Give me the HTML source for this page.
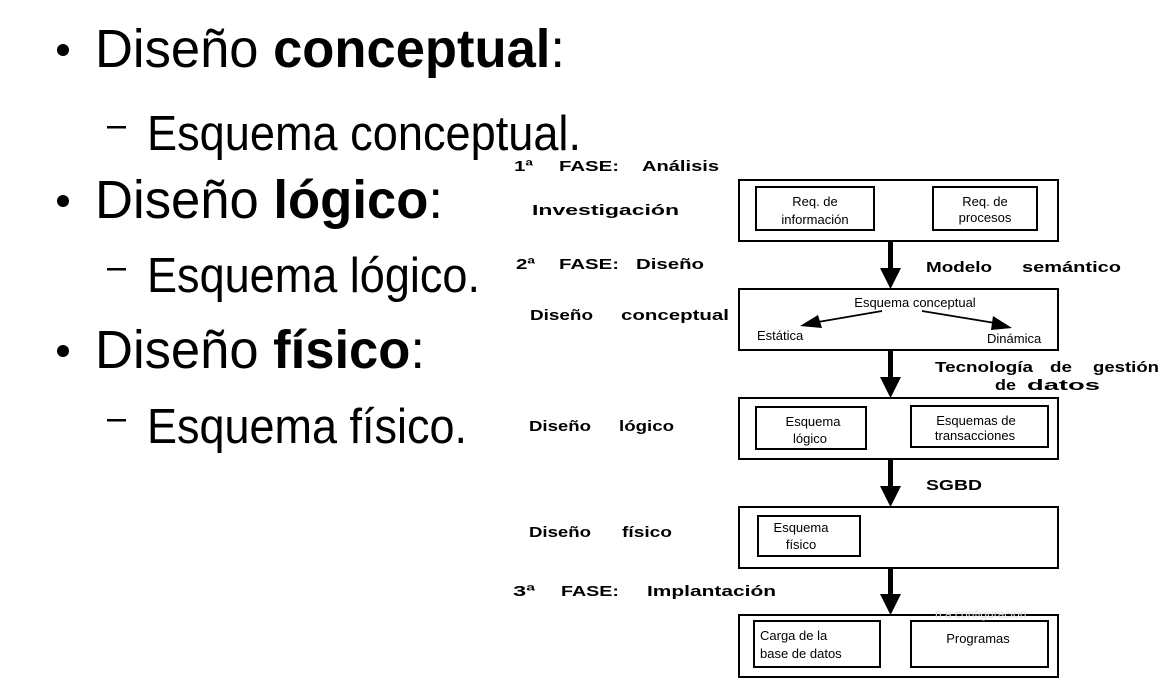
<!DOCTYPE html>
<html><head><meta charset="utf-8"><style>
html,body{margin:0;padding:0;background:#fff;width:1166px;height:694px;overflow:hidden}
svg{display:block}
.big{font-family:"Liberation Sans",Arial,sans-serif;fill:#000}
.lb{font-family:"Liberation Sans",Arial,sans-serif;font-weight:bold;font-size:15px;fill:#000}
.sm{font-family:"Liberation Sans",Arial,sans-serif;font-size:13px;fill:#000}
</style></head><body>
<svg width="1166" height="694" viewBox="0 0 1166 694" xmlns="http://www.w3.org/2000/svg">
<circle cx="63" cy="50" r="6"/>
<text class="big" x="95" y="67" font-size="54" textLength="470" lengthAdjust="spacingAndGlyphs">Diseño <tspan font-weight="bold">conceptual</tspan>:</text>
<rect x="107" y="126" width="19" height="2.5"/>
<text class="big" x="147" y="150" font-size="49" textLength="434" lengthAdjust="spacingAndGlyphs">Esquema conceptual.</text>
<circle cx="63" cy="201" r="6"/>
<text class="big" x="95" y="218" font-size="54" textLength="348" lengthAdjust="spacingAndGlyphs">Diseño <tspan font-weight="bold">lógico</tspan>:</text>
<rect x="107" y="268" width="19" height="2.5"/>
<text class="big" x="147" y="292" font-size="49" textLength="333" lengthAdjust="spacingAndGlyphs">Esquema lógico.</text>
<circle cx="63" cy="351" r="6"/>
<text class="big" x="95" y="368" font-size="54" textLength="330" lengthAdjust="spacingAndGlyphs">Diseño <tspan font-weight="bold">físico</tspan>:</text>
<rect x="107" y="419" width="19" height="2.5"/>
<text class="big" x="147" y="443" font-size="49" textLength="320" lengthAdjust="spacingAndGlyphs">Esquema físico.</text>

<g class="lb">
<text x="514" y="171" textLength="19" lengthAdjust="spacingAndGlyphs">1ª</text>
<text x="559" y="171" textLength="60" lengthAdjust="spacingAndGlyphs">FASE:</text>
<text x="642" y="171" textLength="77" lengthAdjust="spacingAndGlyphs">Análisis</text>
<text x="532" y="215" textLength="147" lengthAdjust="spacingAndGlyphs">Investigación</text>
<text x="516" y="269" textLength="19" lengthAdjust="spacingAndGlyphs">2ª</text>
<text x="559" y="269" textLength="60" lengthAdjust="spacingAndGlyphs">FASE:</text>
<text x="636" y="269" textLength="68" lengthAdjust="spacingAndGlyphs">Diseño</text>
<text x="926" y="272" textLength="66" lengthAdjust="spacingAndGlyphs">Modelo</text>
<text x="1022" y="272" textLength="99" lengthAdjust="spacingAndGlyphs">semántico</text>
<text x="530" y="320" textLength="63" lengthAdjust="spacingAndGlyphs">Diseño</text>
<text x="621" y="320" textLength="108" lengthAdjust="spacingAndGlyphs">conceptual</text>
<text x="935" y="372" textLength="98" lengthAdjust="spacingAndGlyphs">Tecnología</text>
<text x="1050" y="372" textLength="22" lengthAdjust="spacingAndGlyphs">de</text>
<text x="1093" y="372" textLength="66" lengthAdjust="spacingAndGlyphs">gestión</text>
<text x="995" y="390" textLength="21" lengthAdjust="spacingAndGlyphs">de</text>
<text x="1027" y="390" textLength="73" lengthAdjust="spacingAndGlyphs">datos</text>
<text x="529" y="431" textLength="62" lengthAdjust="spacingAndGlyphs">Diseño</text>
<text x="619" y="431" textLength="55" lengthAdjust="spacingAndGlyphs">lógico</text>
<text x="926" y="490" textLength="56" lengthAdjust="spacingAndGlyphs">SGBD</text>
<text x="529" y="537" textLength="62" lengthAdjust="spacingAndGlyphs">Diseño</text>
<text x="622" y="537" textLength="50" lengthAdjust="spacingAndGlyphs">físico</text>
<text x="513" y="596" textLength="22" lengthAdjust="spacingAndGlyphs">3ª</text>
<text x="561" y="596" textLength="58" lengthAdjust="spacingAndGlyphs">FASE:</text>
<text x="647" y="596" textLength="129" lengthAdjust="spacingAndGlyphs">Implantación</text>
</g>

<g fill="none" stroke="#000" stroke-width="2">
<rect x="739" y="180" width="319" height="61"/>
<rect x="756" y="187" width="118" height="43"/>
<rect x="933" y="187" width="104" height="43"/>
<rect x="739" y="289" width="319" height="61"/>
<rect x="739" y="398" width="319" height="61"/>
<rect x="756" y="407" width="110" height="42"/>
<rect x="911" y="406" width="137" height="41"/>
<rect x="739" y="507" width="319" height="61"/>
<rect x="758" y="516" width="102" height="40"/>
<rect x="739" y="615" width="319" height="62"/>
<rect x="754" y="621" width="126" height="46"/>
<rect x="911" y="621" width="137" height="46"/>
</g>

<g fill="#000">
<rect x="888" y="241" width="5" height="30"/><polygon points="880,268 901,268 890.5,289"/>
<rect x="888" y="350" width="5" height="30"/><polygon points="880,377 901,377 890.5,398"/>
<rect x="888" y="459" width="5" height="30"/><polygon points="880,486 901,486 890.5,507"/>
<rect x="888" y="568" width="5" height="28"/><polygon points="880,594 901,594 890.5,615"/>
</g>
<line x1="882" y1="311" x2="818" y2="322" stroke="#000" stroke-width="1.8"/>
<polygon points="800,326 818,315 822,328" fill="#000"/>
<line x1="922" y1="311" x2="995" y2="323" stroke="#000" stroke-width="1.8"/>
<polygon points="1012,328 993,316 991,330" fill="#000"/>

<g class="sm">
<text x="815" y="206" text-anchor="middle" class="sm">Req. de</text>
<text x="815" y="224" text-anchor="middle" class="sm">información</text>
<text x="985" y="206" text-anchor="middle" class="sm">Req. de</text>
<text x="985" y="222" text-anchor="middle" class="sm">procesos</text>
<text x="915" y="307" text-anchor="middle" class="sm">Esquema conceptual</text>
<text x="757" y="340" class="sm">Estática</text>
<text x="987" y="343" class="sm">Dinámica</text>
<text x="813" y="426" text-anchor="middle" class="sm">Esquema</text>
<text x="810" y="443" text-anchor="middle" class="sm">lógico</text>
<text x="976" y="425" text-anchor="middle" class="sm">Esquemas de</text>
<text x="975" y="440" text-anchor="middle" class="sm">transacciones</text>
<text x="801" y="532" text-anchor="middle" class="sm">Esquema</text>
<text x="801" y="549" text-anchor="middle" class="sm">físico</text>
<text x="760" y="640" class="sm">Carga de la</text>
<text x="760" y="658" class="sm">base de datos</text>
<text x="978" y="643" text-anchor="middle" class="sm">Programas</text>
</g>
<text x="935" y="618" font-family="Liberation Sans,sans-serif" font-size="12" fill="#ddd">n a configuración</text>
</svg>
</body></html>
